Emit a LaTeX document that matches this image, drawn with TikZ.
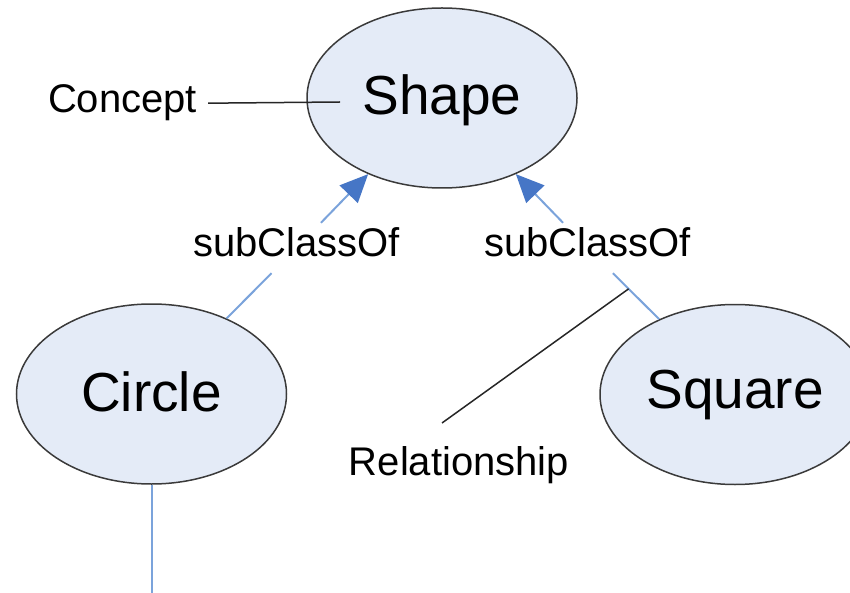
\documentclass[tikz,border=0pt]{standalone}
\usepackage{fontspec}
\setmainfont{Liberation Sans}
\usetikzlibrary{shapes.geometric,arrows.meta}
\definecolor{linkblue}{HTML}{7BA3DB}
\definecolor{tipblue}{HTML}{4676C6}
\definecolor{conceptfill}{HTML}{E4EBF7}
\definecolor{rim}{HTML}{3A3A3A}
\tikzset{
  concept/.style={ellipse, draw=rim, line width=1.5pt, fill=conceptfill,
    minimum width=270pt, minimum height=180pt, inner sep=0pt,
    font=\fontsize{55}{60}\selectfont, text height=40pt, text depth=6pt},
  lbl/.style={anchor=base, inner sep=0pt, font=\fontsize{40}{46}\selectfont,
    text height=34pt, text depth=16pt},
  note/.style={anchor=base, inner xsep=11pt, inner ysep=0pt, font=\fontsize{40}{46}\selectfont},
  link/.style={draw=linkblue, line width=2pt},
  isa/.style={link, -{Triangle[length=28pt,width=25pt,color=tipblue]}},
  pointer/.style={draw=black!85, line width=1.5pt}
}
\begin{document}
\begin{tikzpicture}[x=1pt,y=-1pt]
\useasboundingbox (0,0) rectangle (850,593);
\node[concept] (shape) at (442,98) {Shape};
\node[concept] (circ) at (151.5,394) {Circle};
\node[concept, text depth=13pt] (sq) at (735,394.5) {Square};
\node[lbl] (l1) at (296.5,257) {subClassOf};
\node[lbl] (l2) at (587.5,257) {subClassOf};
\node[note] (conc) at (122.5,113) {Concept};
\node[note] (rel) at (459,475) {Relationship};
\coordinate (cend) at (340,102);
\coordinate (relend) at (442,423);
\coordinate (down) at (151.5,600);
\draw[link] (circ) -- (l1);
\draw[isa] (l1) -- (shape);
\draw[link] (sq) -- node[coordinate, pos=0.66] (r1) {} (l2);
\draw[isa] (l2) -- (shape);
\draw[link] (circ.south) -- (down);
\draw[pointer] (conc.east) -- (cend);
\draw[pointer] (r1) -- (relend);
\end{tikzpicture}
\end{document}
